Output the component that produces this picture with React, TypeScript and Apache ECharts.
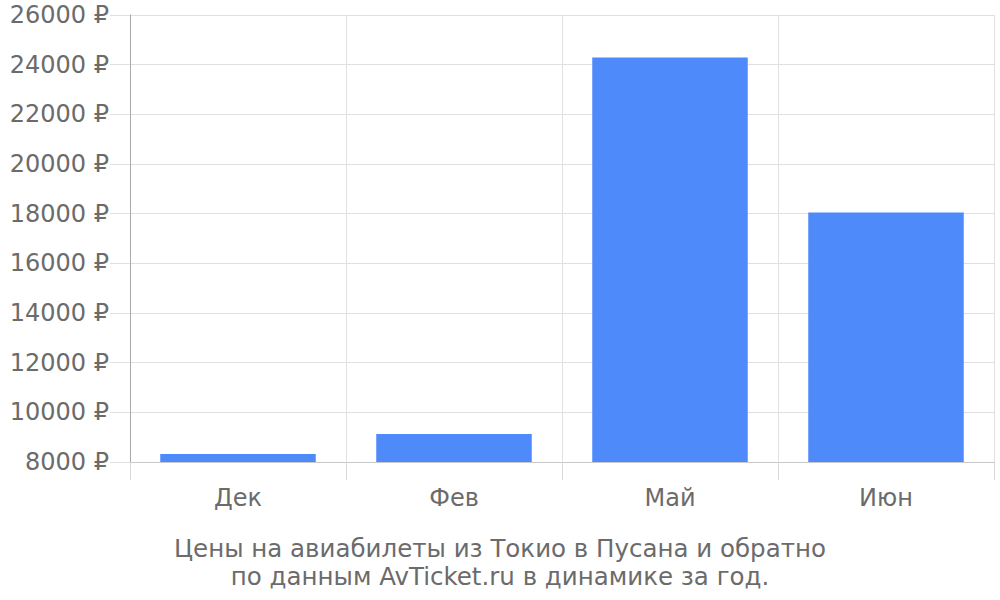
import React, { useEffect, useRef } from "react";
import * as echarts from "echarts";

const categories = ["Дек", "Фев", "Май", "Июн"];
const prices = [8320, 9130, 24290, 18050];
const yMin = 8000;
const yMax = 26000;
const yStep = 2000;
const titleLines = [
  "Цены на авиабилеты из Токио в Пусана и обратно",
  "по данным AvTicket.ru в динамике за год.",
];

export default function App() {
  const ref = useRef<HTMLDivElement>(null);
  useEffect(() => {
    if (!ref.current) return;
    const chart = echarts.init(ref.current, null, { renderer: "svg" });
    chart.setOption({
      animation: false,
      textStyle: { fontFamily: "DejaVu Sans" },
      title: {
        text: titleLines.join("\n"),
        left: "center",
        top: 529,
        textStyle: {
          fontFamily: "DejaVu Sans",
          fontSize: 24.5,
          lineHeight: 28,
          fontWeight: "normal",
          color: "#6b6b6b",
        },
      },
      grid: { left: 130, right: 6, top: 15, bottom: 138, containLabel: false },
      xAxis: {
        type: "category",
        data: categories,
        boundaryGap: true,
        axisLine: { show: true, lineStyle: { color: "#c8c8c8", width: 1 } },
        axisTick: { show: true, length: 18, alignWithLabel: false, lineStyle: { color: "#d8d8d8" } },
        axisLabel: { fontSize: 24, color: "#6b6b6b", margin: 24, fontFamily: "DejaVu Sans" },
        splitLine: { show: true, lineStyle: { color: "#e0e0e0", width: 1 } },
      },
      yAxis: {
        type: "value",
        min: yMin,
        max: yMax,
        interval: yStep,
        axisLine: { show: true, lineStyle: { color: "#a8a8a8", width: 1 } },
        axisTick: { show: true, length: 20, lineStyle: { color: "#e0e0e0" } },
        axisLabel: {
          fontSize: 24,
          color: "#6b6b6b",
          margin: 21,
          fontFamily: "DejaVu Sans",
          formatter: (v: number) => v + " ₽",
        },
        splitLine: { show: true, lineStyle: { color: "#e0e0e0", width: 1 } },
      },
      series: [
        {
          type: "bar",
          data: prices,
          barWidth: "72%",
          itemStyle: { color: "#4e8af9" },
        },
      ],
    });
    return () => chart.dispose();
  }, []);
  return (
    <div
      ref={ref}
      style={{ position: "absolute", left: 0, top: 0, width: 1000, height: 600 }}
    />
  );
}
